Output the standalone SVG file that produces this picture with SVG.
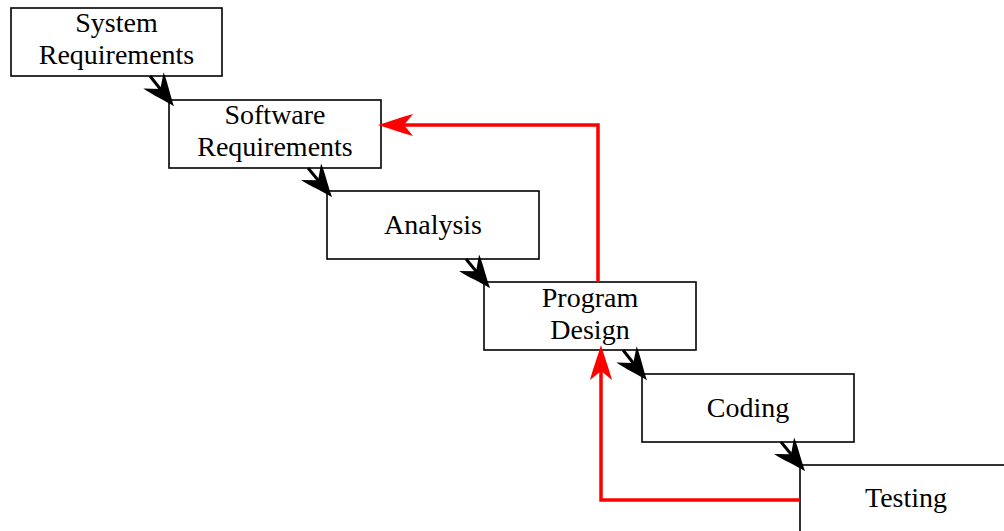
<svg xmlns="http://www.w3.org/2000/svg" width="1004" height="531" viewBox="0 0 1004 531">
<style>
.box{fill:#fff;stroke:#000;stroke-width:1.6}
.lbl{font-family:"Liberation Serif","Times New Roman",serif;font-size:28px;fill:#000;text-anchor:middle}
.blk{fill:none;stroke:#000;stroke-width:3}
.red{fill:none;stroke:#f00;stroke-width:3.5}
</style>
<defs>
<marker id="ab" viewBox="-35 -14 36 28" markerWidth="36" markerHeight="28" refX="-8" refY="0" orient="auto" markerUnits="userSpaceOnUse">
<path d="M0,0 C-9,-3 -23,-10 -33,-13 L-22,0 L-33,13 C-23,10 -9,3 0,0 Z" fill="#000"/>
</marker>
<marker id="ar" viewBox="-36 -12 37 24" markerWidth="37" markerHeight="24" refX="-10" refY="0" orient="auto" markerUnits="userSpaceOnUse">
<path d="M0,0 C-10,-3 -24,-8 -35,-11 L-26,0 L-35,11 C-24,8 -10,3 0,0 Z" fill="#f00"/>
</marker>
</defs>
<g id="n1"><rect class="box" x="11" y="8" width="211" height="68"/><text class="lbl" x="116.5" y="32">System</text><text class="lbl" x="116.5" y="64">Requirements</text></g>
<g id="n2"><rect class="box" x="169" y="100" width="212" height="68"/><text class="lbl" x="275" y="124">Software</text><text class="lbl" x="275" y="156">Requirements</text></g>
<g id="n3"><rect class="box" x="327" y="191" width="212" height="68"/><text class="lbl" x="433" y="234">Analysis</text></g>
<g id="n4"><rect class="box" x="484" y="282" width="212" height="68"/><text class="lbl" x="590" y="307">Program</text><text class="lbl" x="590" y="339">Design</text></g>
<g id="n5"><rect class="box" x="642" y="374" width="212" height="68"/><text class="lbl" x="748" y="417">Coding</text></g>
<g id="n6"><rect class="box" x="800" y="465" width="212" height="68"/><text class="lbl" x="906" y="507">Testing</text></g>
<g id="connectors">
<line class="blk" x1="150" y1="76" x2="169" y2="100" marker-end="url(#ab)"/>
<line class="blk" x1="308" y1="168" x2="327" y2="191" marker-end="url(#ab)"/>
<line class="blk" x1="466" y1="259" x2="485" y2="282" marker-end="url(#ab)"/>
<line class="blk" x1="623" y1="350" x2="642" y2="374" marker-end="url(#ab)"/>
<line class="blk" x1="781" y1="442" x2="800" y2="465" marker-end="url(#ab)"/>
<path class="red" d="M598,282 L598,125 L388,125" marker-end="url(#ar)"/>
<path class="red" d="M800,500 L601,500 L601,355" marker-end="url(#ar)"/>
</g>
</svg>
